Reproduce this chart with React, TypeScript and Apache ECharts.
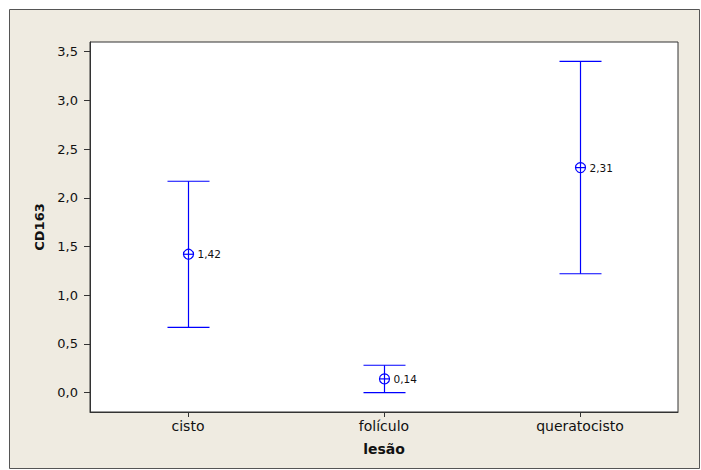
import React, { useEffect, useRef } from "react";
import * as echarts from "echarts";

const categories = ["cisto", "folículo", "queratocisto"];
const means = [1.42, 0.14, 2.31];
const lowers = [0.67, 0.0, 1.22];
const uppers = [2.17, 0.28, 3.4];
const yTicks = [0, 0.5, 1.0, 1.5, 2.0, 2.5, 3.0, 3.5];
const yMin = -0.2;
const yMax = 3.6;

const fmt = (v: number) => v.toFixed(1).replace(".", ",");
const fmt2 = (v: number) => v.toFixed(2).replace(".", ",");

export default function App() {
  const ref = useRef<HTMLDivElement>(null);
  useEffect(() => {
    if (!ref.current) return;
    const chart = echarts.init(ref.current, null, { renderer: "svg" });
    const blue = "#0000ff";
    const data = categories.map((_, i) => [i, means[i], lowers[i], uppers[i]]);
    const frame = {
      type: "rect",
      id: "frame",
      z: -10,
      shape: { x: 9.5, y: 9.5, width: 690, height: 459 },
      style: { fill: "#efebe1", stroke: "#555555", lineWidth: 1 },
    };
    chart.setOption({
      animation: false,
      backgroundColor: "#ffffff",
      textStyle: { fontFamily: "DejaVu Sans" },
      graphic: [frame],
      grid: {
        left: 90,
        right: 23,
        top: 42,
        bottom: 58,
        show: true,
        backgroundColor: "#ffffff",
        borderColor: "#333333",
        borderWidth: 1,
      },
      xAxis: {
        type: "category",
        data: categories,
        boundaryGap: true,
        name: "lesão",
        nameLocation: "middle",
        nameGap: 30,
        nameTextStyle: { fontFamily: "DejaVu Sans", fontWeight: "bold", fontSize: 14, color: "#111" },
        axisLine: { show: true, onZero: false, lineStyle: { color: "#333", width: 1 } },
        axisTick: { show: false },
        axisLabel: { fontFamily: "DejaVu Sans", fontSize: 14, color: "#111", margin: 7 },
        splitLine: { show: false },
      },
      yAxis: {
        type: "value",
        min: yMin,
        max: yMax,
        name: "CD163",
        nameLocation: "middle",
        nameGap: 43,
        nameTextStyle: { fontFamily: "DejaVu Sans", fontWeight: "bold", fontSize: 13, color: "#111" },
        axisLine: { show: true, onZero: false, lineStyle: { color: "#333", width: 1 } },
        axisTick: { show: true, length: 6, customValues: yTicks, lineStyle: { color: "#333" } },
        axisLabel: {
          fontFamily: "DejaVu Sans",
          fontSize: 13,
          color: "#111",
          margin: 12,
          customValues: yTicks,
          formatter: (v: number) => fmt(v),
        },
        splitLine: { show: false },
      },
      series: [
        {
          type: "custom",
          data,
          encode: { x: 0, y: [1, 2, 3] },
          renderItem: (params: any, api: any) => {
            const x = api.value(0);
            const m = api.value(1);
            const lo = api.value(2);
            const hi = api.value(3);
            const pm = api.coord([x, m]);
            const pl = api.coord([x, lo]);
            const ph = api.coord([x, hi]);
            const cx = Math.round(pm[0]) + 0.5;
            const hw = 21;
            const r = 5;
            const ls = { stroke: blue, lineWidth: 1.2 };
            return {
              type: "group",
              children: [
                { type: "line", shape: { x1: cx, y1: ph[1], x2: cx, y2: pl[1] }, style: ls },
                { type: "line", shape: { x1: cx - hw, y1: ph[1], x2: cx + hw, y2: ph[1] }, style: ls },
                { type: "line", shape: { x1: cx - hw, y1: pl[1], x2: cx + hw, y2: pl[1] }, style: ls },
                { type: "circle", shape: { cx, cy: pm[1], r }, style: { fill: "#ffffff", stroke: blue, lineWidth: 1.2 } },
                { type: "line", shape: { x1: cx - r, y1: pm[1], x2: cx + r, y2: pm[1] }, style: ls },
                { type: "line", shape: { x1: cx, y1: pm[1] - r, x2: cx, y2: pm[1] + r }, style: ls },
                {
                  type: "text",
                  style: {
                    x: cx + 9,
                    y: pm[1],
                    text: fmt2(m),
                    fill: "#111",
                    fontFamily: "DejaVu Sans",
                    fontSize: 10.5,
                    verticalAlign: "middle",
                    align: "left",
                  },
                },
              ],
            };
          },
        },
      ],
    });
    const yb = chart.convertToPixel({ yAxisIndex: 0 }, yMin) as number;
    const ticks = categories.map((c, i) => {
      const px = Math.round(chart.convertToPixel({ xAxisIndex: 0 }, c) as number) + 0.5;
      return {
        type: "line",
        id: "xt" + i,
        z: 100,
        shape: { x1: px, y1: yb, x2: px, y2: yb + 5 },
        style: { stroke: "#333333", lineWidth: 1 },
      };
    });
    chart.setOption({ graphic: [frame, ...ticks] });
    return () => chart.dispose();
  }, []);
  return (
    <div
      ref={ref}
      style={{ position: "absolute", left: 0, top: 0, width: 701, height: 470 }}
    />
  );
}
